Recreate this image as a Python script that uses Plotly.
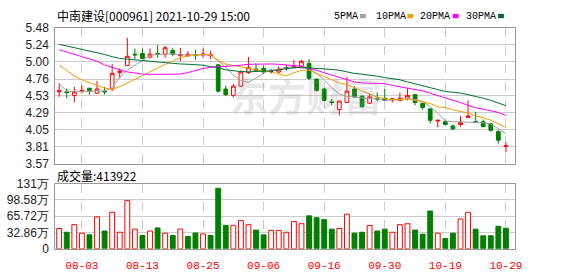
import plotly.graph_objects as go

# ---------------- data ----------------
dates = ["07-29", "07-30", "08-02", "08-03", "08-04", "08-05", "08-06", "08-09", "08-10", "08-11",
         "08-12", "08-13", "08-16", "08-17", "08-18", "08-19", "08-20", "08-23", "08-24", "08-25",
         "08-26", "08-27", "08-30", "08-31", "09-01", "09-02", "09-03", "09-06", "09-07", "09-08",
         "09-09", "09-10", "09-13", "09-14", "09-15", "09-16", "09-17", "09-22", "09-23", "09-24",
         "09-27", "09-28", "09-29", "09-30", "10-08", "10-11", "10-12", "10-13", "10-14", "10-15",
         "10-18", "10-19", "10-20", "10-21", "10-22", "10-25", "10-26", "10-27", "10-28", "10-29"]

open_ = [4.58, 4.58, 4.53, 4.59, 4.63, 4.56, 4.59, 4.62, 4.85, 4.95,
         5.11, 5.12, 5.07, 5.12, 5.11, 5.16, 5.09, 5.09, 5.10, 5.10,
         5.09, 4.96, 4.62, 4.53, 4.66, 4.85, 4.90, 4.91, 4.87, 4.86,
         4.92, 4.92, 4.94, 4.98, 4.76, 4.62, 4.44, 4.33, 4.43, 4.62,
         4.52, 4.42, 4.49, 4.49, 4.47, 4.46, 4.49, 4.54, 4.42, 4.34,
         4.17, 4.16, 4.10, 4.12, 4.22, 4.16, 4.16, 4.13, 4.02, 3.81]
high = [4.70, 4.63, 4.65, 4.67, 4.64, 4.73, 4.65, 4.97, 4.91, 5.34,
        5.19, 5.19, 5.19, 5.24, 5.23, 5.20, 5.20, 5.15, 5.17, 5.19,
        5.16, 4.97, 4.67, 4.69, 4.88, 5.07, 4.98, 4.95, 4.90, 4.94,
        4.955, 5.03, 5.03, 5.04, 4.76, 4.635, 4.48, 4.45, 4.79, 4.66,
        4.52, 4.55, 4.57, 4.62, 4.49, 4.57, 4.63, 4.55, 4.42, 4.345,
        4.18, 4.18, 4.12, 4.24, 4.46, 4.30, 4.19, 4.145, 4.04, 3.87]
low = [4.51, 4.49, 4.43, 4.56, 4.54, 4.55, 4.54, 4.59, 4.77, 4.95,
       5.04, 5.04, 5.05, 5.06, 5.06, 5.08, 5.01, 5.07, 5.03, 5.06,
       5.04, 4.57, 4.52, 4.50, 4.65, 4.83, 4.86, 4.83, 4.84, 4.84,
       4.88, 4.91, 4.91, 4.75, 4.585, 4.45, 4.39, 4.25, 4.42, 4.50,
       4.36, 4.41, 4.45, 4.45, 4.43, 4.45, 4.46, 4.39, 4.33, 4.135,
       4.08, 4.11, 4.04, 4.09, 4.22, 4.15, 4.09, 4.02, 3.85, 3.73]
close = [4.60, 4.57, 4.58, 4.60, 4.59, 4.62, 4.58, 4.84, 4.87, 5.08,
         5.10, 5.05, 5.11, 5.11, 5.20, 5.11, 5.10, 5.11, 5.09, 5.11,
         5.10, 4.59, 4.54, 4.66, 4.86, 4.92, 4.88, 4.86, 4.87, 4.90,
         4.92, 4.94, 5.01, 4.77, 4.60, 4.46, 4.43, 4.45, 4.59, 4.51,
         4.37, 4.51, 4.48, 4.46, 4.48, 4.49, 4.53, 4.43, 4.36, 4.18,
         4.18, 4.12, 4.06, 4.15, 4.24, 4.155, 4.09, 4.04, 3.90, 3.82]
doji_days = ["09-07", "09-09"]

ma5 = [4.696, 4.594, 4.585, 4.585, 4.585, 4.585, 4.594, 4.64, 4.785, 4.884,
       4.95, 5.026, 5.093, 5.106, 5.106, 5.115, 5.10, 5.10, 5.10, 5.10,
       5.097, 5.017, 4.928, 4.816, 4.741, 4.714, 4.772, 4.848, 4.884, 4.892,
       4.928, 4.928, 4.92, 4.906, 4.839, 4.750, 4.639, 4.550, 4.518, 4.505,
       4.492, 4.483, 4.483, 4.461, 4.461, 4.474, 4.483, 4.474, 4.447, 4.371,
       4.282, 4.171, 4.158, 4.158, 4.149, 4.149, 4.144, 4.127, 4.060, 3.993]
ma10 = [4.959, 4.884, 4.803, 4.75, 4.705, 4.67, 4.634, 4.616, 4.652, 4.705,
        4.759, 4.816, 4.87, 4.915, 4.964, 5.01, 5.062, 5.084, 5.097, 5.106,
        5.097, 5.026, 4.972, 4.95, 4.937, 4.906, 4.884, 4.87, 4.86, 4.83,
        4.803, 4.848, 4.884, 4.884, 4.839, 4.795, 4.75, 4.705, 4.683, 4.639,
        4.594, 4.55, 4.505, 4.483, 4.47, 4.47, 4.483, 4.461, 4.438, 4.416,
        4.371, 4.358, 4.327, 4.305, 4.282, 4.238, 4.216, 4.18, 4.13, 4.08]
ma20 = [5.173, 5.14, 5.11, 5.084, 5.05, 5.01, 4.96, 4.92, 4.89, 4.86,
        4.84, 4.83, 4.826, 4.826, 4.826, 4.826, 4.83, 4.85, 4.885, 4.91,
        4.925, 4.93, 4.935, 4.94, 4.955, 4.968, 4.972, 4.972, 4.972, 4.968,
        4.96, 4.95, 4.94, 4.906, 4.884, 4.848, 4.816, 4.781, 4.75, 4.72,
        4.705, 4.705, 4.705, 4.696, 4.67, 4.652, 4.639, 4.616, 4.594, 4.56,
        4.53, 4.50, 4.47, 4.43, 4.39, 4.355, 4.335, 4.315, 4.29, 4.247]
ma30 = [5.249, 5.226, 5.195, 5.173, 5.15, 5.128, 5.106, 5.075, 5.05, 5.04,
        5.03, 5.017, 5.005, 4.995, 4.99, 4.98, 4.972, 4.968, 4.962, 4.955,
        4.935, 4.92, 4.89, 4.875, 4.865, 4.862, 4.865, 4.87, 4.875, 4.89,
        4.906, 4.92, 4.925, 4.92, 4.915, 4.906, 4.895, 4.884, 4.862, 4.839,
        4.828, 4.816, 4.80, 4.781, 4.765, 4.75, 4.72, 4.696, 4.668, 4.639,
        4.612, 4.585, 4.575, 4.563, 4.54, 4.518, 4.49, 4.461, 4.425, 4.385]

# volume in 万股, and its colour direction (1 = up/red, -1 = down/green)
volume = [40.9, 33.3, 48.6, 31.4, 28.1, 64.5, 35.8, 73.5, 33.3, 97.0,
          39.6, 26.8, 35.8, 42.1, 31.4, 26.8, 39.6, 24.9, 31.9, 30.0,
          26.8, 121.9, 47.3, 47.3, 56.8, 48.6, 37.7, 28.1, 37.1, 37.1,
          33.3, 54.9, 50.5, 66.4, 62.6, 58.7, 39.6, 40.9, 69.6, 31.4,
          33.3, 46.7, 35.8, 39.6, 33.3, 48.6, 50.5, 37.7, 29.5, 76.0,
          31.4, 20.5, 31.4, 60.1, 73.5, 39.6, 26.2, 26.2, 45.3, 41.39]
vol_dir = [1, -1, 1, 1, -1, 1, -1, 1, 1, 1,
           1, -1, 1, -1, 1, -1, 1, -1, -1, 1,
           -1, -1, -1, 1, 1, 1, -1, -1, 1, 1,
           1, 1, 1, -1, -1, -1, -1, 1, 1, -1,
           -1, 1, -1, -1, 1, 1, 1, -1, -1, -1,
           1, -1, -1, 1, 1, -1, -1, -1, -1, -1]

tick_dates = ["08-03", "08-13", "08-25", "09-06", "09-16", "09-30", "10-19", "10-29"]
price_ticks = [3.57, 3.81, 4.05, 4.29, 4.53, 4.76, 5.00, 5.24, 5.48]
price_tick_text = ["3.57", "3.81", "4.05", "4.29", "4.53", "4.76", "5.00", "5.24", "5.48"]
vol_ticks = [0, 32.86, 65.72, 98.58, 131.44]
vol_tick_text = ["0", "32.86万", "65.72万", "98.58万", "131万"]
title_text = "中南建设[000961] 2021-10-29 15:00"
vol_label = "成交量:413922"
ma_names = ["5PMA", "10PMA", "20PMA", "30PMA"]
watermark = "东方财富"

# ---------------- styling helpers ----------------
W, H = 578, 276
def px(x):
    return x / W
def py(y):
    return 1 - y / H

RED = "#ff0000"
GREEN = "#008000"
MA_COLORS = ["#a0a0a0", "#f5a000", "#ff00ff", "#006e36"]

fig = go.Figure()

# candles
norm_idx = [i for i, d in enumerate(dates) if d not in doji_days]
doji_idx = [i for i, d in enumerate(dates) if d in doji_days]
fig.add_trace(go.Candlestick(
    x=[dates[i] for i in norm_idx],
    open=[open_[i] for i in norm_idx], high=[high[i] for i in norm_idx],
    low=[low[i] for i in norm_idx], close=[close[i] for i in norm_idx],
    increasing=dict(line=dict(color=RED, width=1), fillcolor="#ffffff"),
    decreasing=dict(line=dict(color=GREEN, width=1), fillcolor=GREEN),
    whiskerwidth=0, hoverinfo="skip", showlegend=False,
    xaxis="x", yaxis="y"))
fig.add_trace(go.Candlestick(
    x=[dates[i] for i in doji_idx],
    open=[open_[i] for i in doji_idx], high=[high[i] for i in doji_idx],
    low=[low[i] for i in doji_idx], close=[close[i] for i in doji_idx],
    increasing=dict(line=dict(color="#000000", width=1), fillcolor="#000000"),
    decreasing=dict(line=dict(color="#000000", width=1), fillcolor="#000000"),
    whiskerwidth=0, hoverinfo="skip", showlegend=False,
    xaxis="x", yaxis="y"))

# moving averages
for vals, col in zip([ma5, ma10, ma20, ma30], MA_COLORS):
    fig.add_trace(go.Scatter(x=dates, y=vals, mode="lines",
                             line=dict(color=col, width=1),
                             hoverinfo="skip", showlegend=False,
                             xaxis="x", yaxis="y"))

# volume
fig.add_trace(go.Bar(
    x=dates, y=volume, width=0.64,
    marker=dict(color=["#ffffff" if d > 0 else GREEN for d in vol_dir],
                line=dict(color=[RED if d > 0 else GREEN for d in vol_dir], width=1)),
    hoverinfo="skip", showlegend=False, xaxis="x2", yaxis="y2"))

x_dom = [px(56), px(522)]
xrange = [-0.52, 60.17]
common_x = dict(type="category", domain=x_dom, range=xrange,
                categoryorder="array", categoryarray=dates,
                tickmode="array", tickvals=tick_dates, ticktext=tick_dates,
                showgrid=True, gridcolor="#cccccc", griddash="dash", gridwidth=1,
                showline=True, mirror=True, linecolor="#999999", linewidth=1,
                ticks="", zeroline=False, fixedrange=True)
common_y = dict(showgrid=True, gridcolor="#cccccc", gridwidth=1,
                showline=True, mirror=True, linecolor="#999999", linewidth=1,
                ticks="", zeroline=False, fixedrange=True,
                tickfont=dict(family="Liberation Sans, Arial", size=12, color="#222222"),
                ticklabelstandoff=3)

fig.update_layout(
    width=W, height=H,
    margin=dict(l=0, r=0, t=0, b=0),
    paper_bgcolor="#ffffff", plot_bgcolor="#ffffff",
    showlegend=False,
    xaxis=dict(**common_x, anchor="y", showticklabels=False,
               rangeslider=dict(visible=False)),
    xaxis2=dict(**common_x, anchor="y2", showticklabels=True,
                tickfont=dict(family="Liberation Mono, monospace", size=11, color=RED),
                ticklabelstandoff=6),
    yaxis=dict(**common_y, domain=[py(165), py(22)], range=[3.57, 5.48],
               tickmode="array", tickvals=price_ticks, ticktext=price_tick_text),
    yaxis2=dict(**common_y, domain=[py(254.7), py(186)], range=[0, 131.44],
                tickmode="array", tickvals=vol_ticks, ticktext=vol_tick_text),
    bargap=0.3,
)

annotations = [
    # faint watermark
    dict(x=px(310), y=py(92), xref="paper", yref="paper", xanchor="center", yanchor="middle",
         text="<b>" + watermark + "</b>", showarrow=False,
         font=dict(family="Noto Sans CJK SC", size=38, color="rgba(150,150,165,0.22)")),
    dict(x=px(56), y=py(9), xref="paper", yref="paper", xanchor="left", yanchor="middle",
         text=title_text, showarrow=False,
         font=dict(family="Noto Sans CJK SC", size=12, color="#000000")),
    dict(x=px(56), y=py(177), xref="paper", yref="paper", xanchor="left", yanchor="middle",
         text=vol_label, showarrow=False,
         font=dict(family="Noto Sans CJK SC", size=12, color="#000000")),
]
legend_x = [337, 379, 424, 471]
square_x = [365, 413, 459, 505]
shapes = []
for name, lx, sx, col in zip(ma_names, legend_x, square_x, MA_COLORS):
    annotations.append(dict(x=px(lx), y=py(9.5), xref="paper", yref="paper",
                            xanchor="left", yanchor="middle", text=name, showarrow=False,
                            font=dict(family="Liberation Mono, monospace", size=10, color="#000000")))
    shapes.append(dict(type="rect", xref="paper", yref="paper",
                       x0=px(sx), x1=px(sx + 6), y0=py(11.8), y1=py(7.3),
                       fillcolor=col, line=dict(width=0)))

fig.update_layout(annotations=annotations, shapes=shapes)

fig.write_html("out.html")
